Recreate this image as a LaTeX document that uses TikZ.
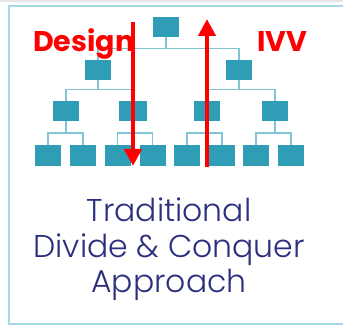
\documentclass[tikz,border=0pt]{standalone}
\usepackage{fontspec}
\setmainfont{Poppins}
\newfontfamily\labelfont{Poppins}[UprightFont={* Bold}]
\newfontfamily\captionfont{Poppins Light}
\usetikzlibrary{arrows.meta,calc}
\definecolor{boxblue}{HTML}{2F9DB6}
\definecolor{linkblue}{HTML}{7FC5D5}
\definecolor{framecyan}{HTML}{A3D9E3}
\definecolor{bandgray}{HTML}{E4E4E4}
\definecolor{navy}{HTML}{2B2F7E}
\definecolor{arrowred}{HTML}{FF0000}
\tikzset{
  unit/.style={fill=boxblue, draw=none, minimum width=26pt, minimum height=20.5pt, inner sep=0pt},
  conn/.style={draw=linkblue, line width=1.2pt},
  flow/.style={draw=arrowred, line width=4.7pt, -{Triangle[length=17pt,width=17pt]}},
  phase/.style={text=arrowred, font=\labelfont\fontsize{28.5}{30}\selectfont, inner sep=0pt, anchor=base west},
  caption/.style={text=navy, font=\captionfont\fontsize{31.5}{35}\selectfont, inner sep=0pt, anchor=base}
}
\begin{document}
\begin{tikzpicture}[x=1pt,y=-1pt]
\useasboundingbox (0,0) rectangle (343,326);
% page band and frame
\fill[bandgray] (0,0) rectangle (343,2);
\draw[framecyan, line width=2pt] (360,6) -- (9,6) -- (9,324) -- (360,324);

% hierarchy of units
\node[unit] (r)   at (166,27) {};
\node[unit] (a)   at (98,70) {};
\node[unit] (b)   at (239,70) {};
\node[unit] (a1)  at (66,111) {};
\node[unit, minimum width=28pt] (a2) at (133,111) {};
\node[unit] (b1)  at (207,111) {};
\node[unit] (b2)  at (275,111) {};
\node[unit] (a11) at (48,155.5) {};
\node[unit] (a12) at (83,155.5) {};
\node[unit] (a21) at (117.5,155.5) {};
\node[unit] (a22) at (152.5,155.5) {};
\node[unit] (b11) at (187,155.5) {};
\node[unit] (b12) at (222,155.5) {};
\node[unit] (b21) at (256,155.5) {};
\node[unit] (b22) at (291,155.5) {};

% tree links: parent drop plus bus to both children
\foreach \p/\c/\d/\h in {r/a/b/11, a/a1/a2/11, b/b1/b2/11,
                         a1/a11/a12/12, a2/a21/a22/12, b1/b11/b12/12, b2/b21/b22/12}{
  \draw[conn] (\c.north) -- ++(0,-\h) coordinate (bus) -| (\d.north);
  \draw[conn] (\p.south) -- (\p.south |- bus);
}

% phase labels
\node[phase] (design) at (33,52) {Design};
\node[phase] (ivv) at (257,52) {IVV};

% top-down and bottom-up flows
\coordinate (dtop) at (133,22);
\coordinate (dbot) at (133,166);
\coordinate (ubot) at (207,167);
\coordinate (utop) at (207,19);
\draw[flow] (dtop) -- (dbot);
\draw[flow] (ubot) -- (utop);

% caption
\node[caption] (l1) at (169,222) {Traditional};
\node[caption] (l2) at (169,257) {Divide \& Conquer};
\node[caption] (l3) at (169,292) {Approach};
\end{tikzpicture}
\end{document}
